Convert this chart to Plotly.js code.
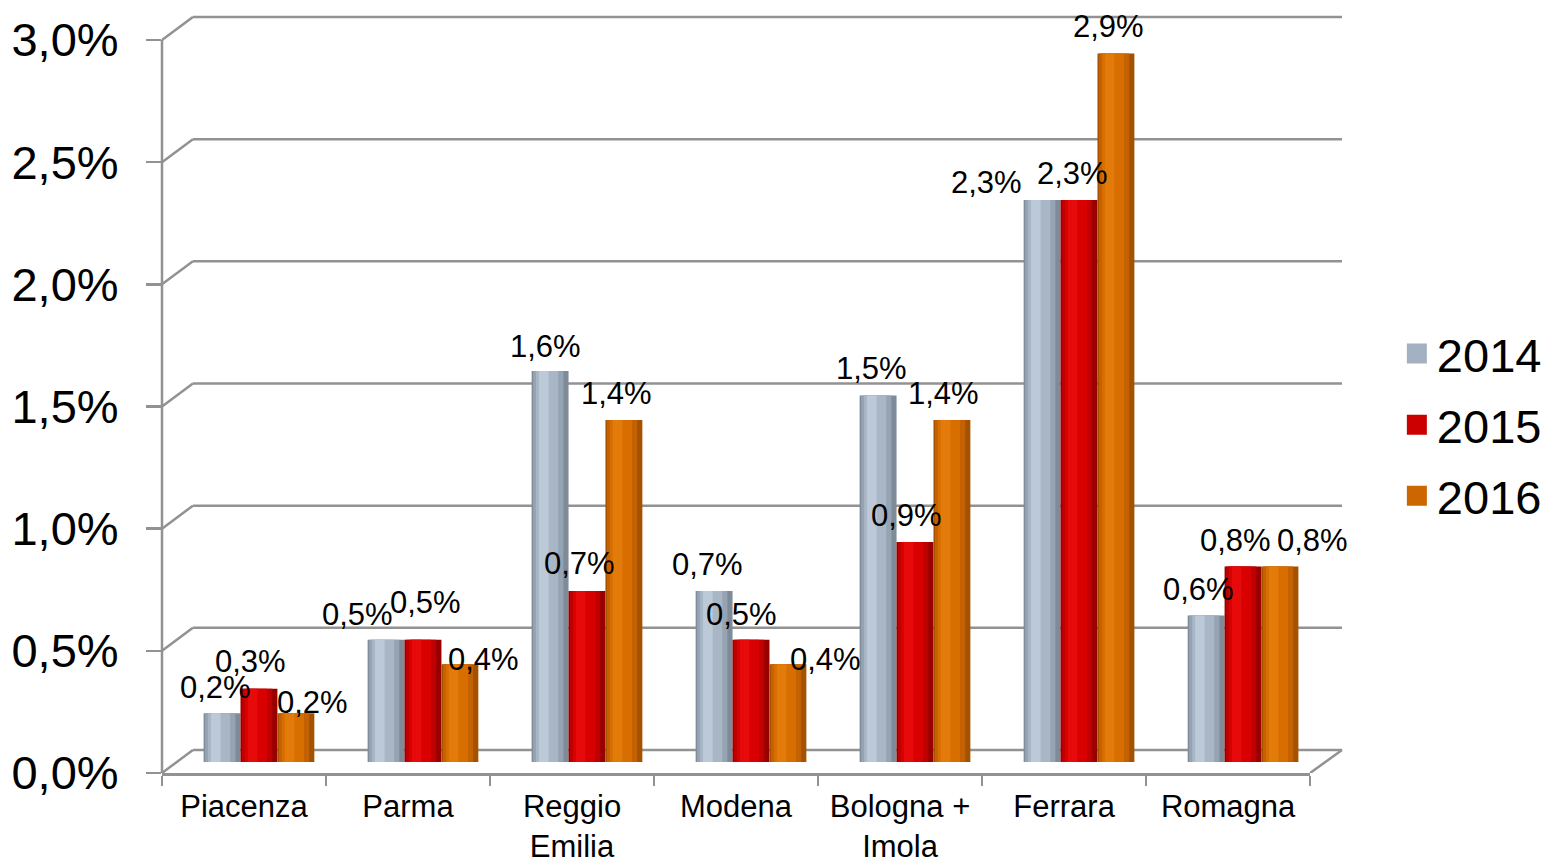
<!DOCTYPE html>
<html>
<head>
<meta charset="utf-8">
<script src="https://cdn.plot.ly/plotly-3.0.1.min.js"></script>
<style>html,body{margin:0;padding:0;background:#fff;}#chart{width:1557px;height:865px;}</style>
</head>
<body>
<div id="chart"></div>
<script>
// ---- data ----
const categories = ["Piacenza", "Parma", "Reggio<br>Emilia", "Modena", "Bologna +<br>Imola", "Ferrara", "Romagna"];
const seriesNames = ["2014", "2015", "2016"];
const values2014 = [0.002, 0.005, 0.016, 0.007, 0.015, 0.023, 0.006];
const values2015 = [0.003, 0.005, 0.007, 0.005, 0.009, 0.023, 0.008];
const values2016 = [0.002, 0.004, 0.014, 0.004, 0.014, 0.029, 0.008];
const yTickValues = [0, 0.005, 0.010, 0.015, 0.020, 0.025, 0.030];

// ---- label placement (pixel nudges, style only) ----
const labelDx2014 = [-7, -29, -5, -7, -7, -56, -8];
const labelDx2015 = [-9, 2, -8, -10, -9, -7, -8];
const labelDx2016 = [16, 23, -8, 37, -9, -8, 32];
const labelDy2014 = [-25, -24, -24, -25, -26, -17, -25];
const labelDy2015 = [-26, -36, -26, -24, -26, -26, -25];
const labelDy2016 = [-10, -4, -25, -4, -25, -26, -25];

// ---- styling / geometry ----
const W = 1557, Hh = 865;
const mL = 162, mR = 1557 - 1345, mT = 10, mB = 865 - 773;
const plotW = W - mL - mR, plotH = Hh - mT - mB;
const frontRight = 1313;                 // end of front category axis (px)
const depthX = 31, depthY = 23;          // perspective offset of the back wall (px)
const scale = 733 / 0.03;                // px per unit
const barZeroPx = 762;                   // pixel row where bars start
const yRange = [0, (773 - mT) / scale];
const y2Range = [(barZeroPx - 773) / scale, (barZeroPx - mT) / scale];

const catPx = (frontRight - mL) / categories.length;
const barPx = 37, shiftPx = 15;
const barW = barPx / catPx;
const shift = shiftPx / catPx;
const seriesOffsets = [-1.5 * barW + shift, -0.5 * barW + shift, 0.5 * barW + shift];
const seriesCenterPx = [-barPx + shiftPx, shiftPx, barPx + shiftPx];
const legendColors = ["#A3B1C2", "#CC0000", "#CC6600"];
const layerColors = [
  ["#7E8B99", "#95A3B2", "#A8B6C6", "#BCC9D8"],
  ["#980000", "#BE0000", "#D80000", "#E60A0A"],
  ["#A45100", "#C46100", "#D86E00", "#E37B0A"]
];
const layerSpans = [[0, 1], [0.04, 0.86], [0.12, 0.72], [0.2, 0.46]];
const allValues = [values2014, values2015, values2016];
const allDx = [labelDx2014, labelDx2015, labelDx2016];
const allDy = [labelDy2014, labelDy2015, labelDy2016];
const fontFam = '"Liberation Sans", Arial, sans-serif';
const gridColor = '#929292';

const traces = [];
allValues.forEach((vals, s) => {
  layerSpans.forEach((sp, k) => {
    traces.push({
      type: 'bar', x: categories, y: vals, xaxis: 'x', yaxis: 'y2',
      offset: seriesOffsets[s] + sp[0] * barW, width: (sp[1] - sp[0]) * barW,
      marker: {color: layerColors[s][k], line: {width: 0}},
      showlegend: false, hoverinfo: 'skip'
    });
  });
});
// legend entries
seriesNames.forEach((n, s) => {
  traces.push({
    type: 'scatter', mode: 'markers', x: [null], y: [null], xaxis: 'x', yaxis: 'y',
    name: n, legendgroup: n,
    marker: {symbol: 'square', size: 24, color: legendColors[s], line: {color: legendColors[s], width: 4}},
    showlegend: true, hoverinfo: 'skip'
  });
});

// data labels
const fmtPct = v => (v * 100).toFixed(1).replace('.', ',') + '%';
const annotations = [];
allValues.forEach((vals, s) => {
  vals.forEach((v, i) => {
    annotations.push({
      xref: 'x', yref: 'y2', x: categories[i], y: v, text: fmtPct(v), showarrow: false,
      xanchor: 'center', yanchor: 'middle',
      xshift: seriesCenterPx[s] + allDx[s][i], yshift: -allDy[s][i] + 1,
      font: {family: fontFam, size: 31, color: '#000'}
    });
  });
});

const shapes = [];
const lineStyle = {color: gridColor, width: 2.5};
yTickValues.forEach(v => {
  shapes.push({type: 'line', layer: 'below', xref: 'paper', x0: depthX / plotW, x1: 1,
    yref: 'y', ysizemode: 'pixel', yanchor: v, y0: depthY, y1: depthY, line: lineStyle});
  shapes.push({type: 'line', layer: 'below', xref: 'paper', x0: 0, x1: depthX / plotW,
    yref: 'y', ysizemode: 'pixel', yanchor: v, y0: 0, y1: depthY, line: lineStyle});
});
shapes.push({type: 'line', layer: 'below', xref: 'paper', x0: 0, x1: 0,
  yref: 'y', y0: 0, y1: yTickValues[yTickValues.length - 1], line: lineStyle});
shapes.push({type: 'line', layer: 'below', xref: 'paper', x0: (frontRight - mL) / plotW, x1: 1,
  yref: 'y', ysizemode: 'pixel', yanchor: 0, y0: 0, y1: depthY, line: lineStyle});

const layout = {
  width: W, height: Hh,
  margin: {l: mL, r: mR, t: mT, b: mB, pad: 0},
  paper_bgcolor: '#fff', plot_bgcolor: 'rgba(0,0,0,0)',
  separators: ',.',
  barmode: 'overlay',
  font: {family: fontFam, color: '#000'},
  xaxis: {
    type: 'category', domain: [0, (frontRight - mL) / plotW], range: [-0.5, categories.length - 0.5],
    anchor: 'y', showline: true, linecolor: gridColor, linewidth: 2.5,
    ticks: 'outside', tickson: 'boundaries', ticklen: 10, tickcolor: gridColor, tickwidth: 2.5,
    tickfont: {family: fontFam, size: 31, color: '#000'}, showgrid: false, zeroline: false,
    ticklabelstandoff: 4, fixedrange: true
  },
  yaxis: {
    range: yRange, anchor: 'x', side: 'left', tickvals: yTickValues, tickformat: '.1%',
    ticks: 'outside', ticklen: 15, tickcolor: gridColor, tickwidth: 2.5,
    tickfont: {family: fontFam, size: 47, color: '#000'}, ticklabelstandoff: 18,
    showgrid: false, zeroline: false, showline: false, fixedrange: true
  },
  yaxis2: {range: y2Range, overlaying: 'y', anchor: 'x', visible: false, fixedrange: true},
  legend: {
    x: (1400 - mL) / plotW, xanchor: 'left', y: (773 - 425) / plotH, yanchor: 'middle',
    font: {family: fontFam, size: 47, color: '#000'}, bgcolor: 'rgba(0,0,0,0)',
    itemwidth: 30, traceorder: 'grouped', tracegroupgap: 7
  },
  annotations: annotations,
  shapes: shapes,
  showlegend: true
};

Plotly.newPlot('chart', traces, layout, {staticPlot: true, displayModeBar: false});
</script>
</body>
</html>
